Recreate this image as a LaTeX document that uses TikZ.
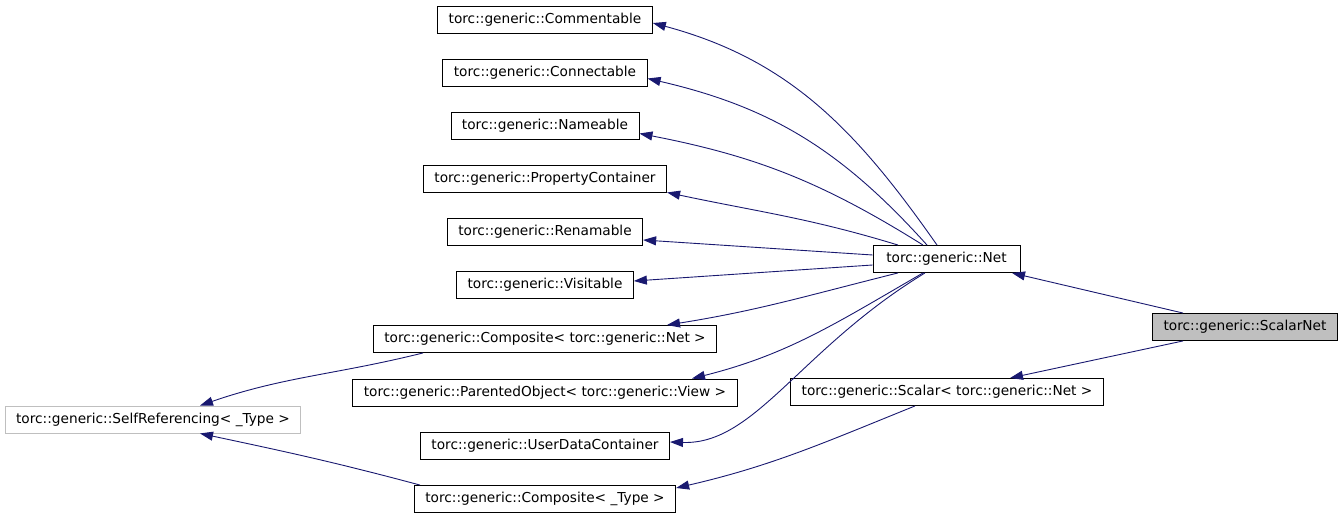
\documentclass[tikz,border=0pt]{standalone}
\usepackage{fontspec}
\setmainfont{DejaVu Sans}
\usetikzlibrary{arrows.meta}
\definecolor{edge_blue}{RGB}{25, 25, 112}
\definecolor{cls_grey}{RGB}{191, 191, 191}
\tikzstyle{cls}=[rectangle,draw=black,fill=white,line width=0.9pt,
  inner xsep=11pt,inner ysep=0pt,minimum height=27pt,
  font=\fontsize{13.7}{16}\selectfont]
\tikzstyle{hl}=[cls,fill=cls_grey]
\tikzstyle{tmpl}=[cls,draw=cls_grey]
\tikzstyle{inh}=[draw=edge_blue,line width=0.9pt,
  -{Triangle[length=13pt,width=9pt]}]
\begin{document}
\begin{tikzpicture}[x=1pt,y=1pt]
        \useasboundingbox (0,0) rectangle (1344,520);
        \node[style=cls] (cmt) at (545,500.5) {torc::generic::Commentable};
        \node[style=cls] (cnt) at (545,447.5) {torc::generic::Connectable};
        \node[style=cls] (nam) at (545,394.5) {torc::generic::Nameable};
        \node[style=cls] (prop) at (545,341.5) {torc::generic::PropertyContainer};
        \node[style=cls] (ren) at (545,288.5) {torc::generic::Renamable};
        \node[style=cls] (vis) at (545,235.5) {torc::generic::Visitable};
        \node[style=cls] (compnet) at (545,181) {torc::generic::Composite< torc::generic::Net >};
        \node[style=cls] (par) at (545,127.5) {torc::generic::ParentedObject< torc::generic::View >};
        \node[style=cls] (udc) at (545,74) {torc::generic::UserDataContainer};
        \node[style=cls] (comptype) at (545,21) {torc::generic::Composite< \_Type >};
        \node[style=tmpl] (self) at (153,100.5) {torc::generic::SelfReferencing< \_Type >};
        \node[style=cls,minimum width=147pt] (net) at (946.5,261) {torc::generic::Net};
        \node[style=cls] (scal) at (947,128) {torc::generic::Scalar< torc::generic::Net >};
        \node[style=hl] (scalnet) at (1245,193) {torc::generic::ScalarNet};
        % Net and its bases
        \draw[style=inh] ([xshift=-9.5pt]net.north) to[out=125,in=-15] ([yshift=-3.5pt]cmt.east);
        \draw[style=inh] ([xshift=-19.5pt]net.north) to[out=132,in=-13] ([yshift=-6pt]cnt.east);
        \draw[style=inh] ([xshift=-23.5pt]net.north) to[out=148,in=-11] ([yshift=-8pt]nam.east);
        \draw[style=inh] ([xshift=-48.5pt]net.north) to[out=163,in=-12] (prop.south east);
        \draw[style=inh] ([yshift=4pt]net.west) to ([yshift=-8.5pt]ren.east);
        \draw[style=inh] ([yshift=-6pt]net.west) to ([yshift=3.5pt]vis.east);
        \draw[style=inh] ([xshift=-48.5pt]net.south) to[out=-166,in=9] ([xshift=122pt]compnet.north);
        \draw[style=inh] ([xshift=-23.5pt]net.south) to[out=-150,in=14] ([xshift=147pt]par.north);
        \draw[style=inh] ([xshift=-21.5pt]net.south) .. controls +(-125,-76) and +(85,-3) .. ([yshift=4pt]udc.east);
        % ScalarNet
        \draw[style=inh] ([xshift=-62pt]scalnet.north) to ([xshift=65.5pt]net.south);
        \draw[style=inh] ([xshift=-62pt]scalnet.south) to ([xshift=63pt]scal.north);
        \draw[style=inh] ([xshift=-32pt]scal.south) to[out=-158,in=13] ([yshift=11pt]comptype.east);
        % templates
        \draw[style=inh] ([xshift=-122pt]compnet.south) to[out=-166,in=19] ([xshift=47pt]self.north);
        \draw[style=inh] ([xshift=-125pt]comptype.north) to[out=165,in=-12] ([xshift=47pt]self.south);
    \end{tikzpicture}
\end{document}
